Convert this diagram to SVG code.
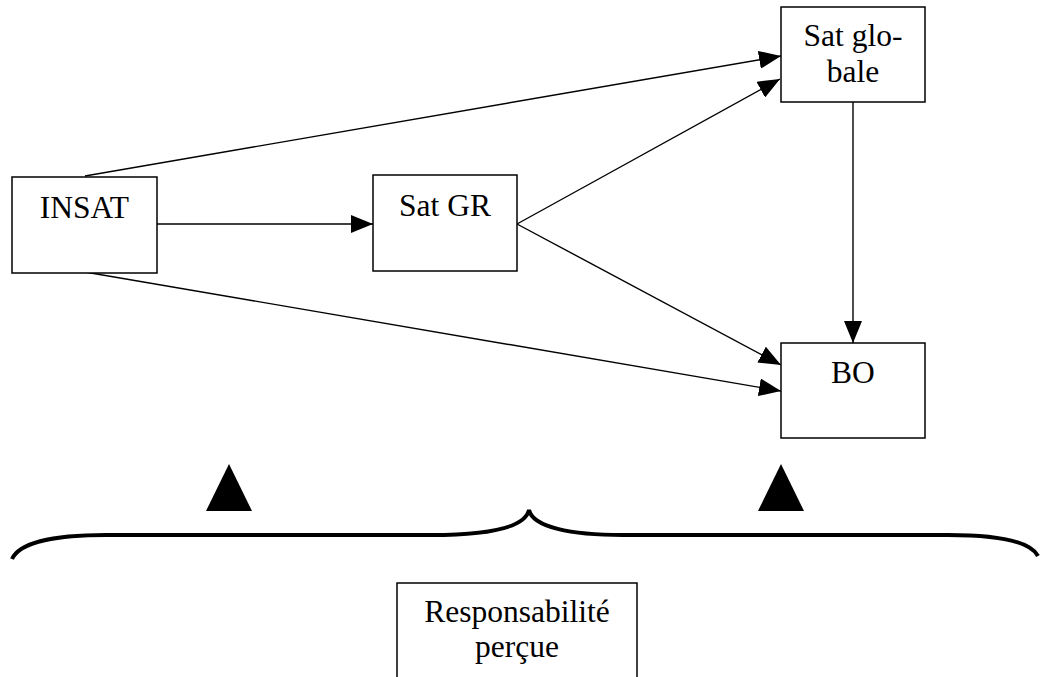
<svg xmlns="http://www.w3.org/2000/svg" width="1040" height="677" viewBox="0 0 1040 677">
  <style>
    .box { fill: #ffffff; stroke: #000000; stroke-width: 1.5; }
    .lbl { font-family: "Liberation Serif", "Times New Roman", serif; font-size: 31.5px; fill: #000000; text-anchor: middle; }
    .edge { fill: none; stroke: #000000; stroke-width: 1.4; marker-end: url(#arrow); }
  </style>
  <defs>
    <marker id="arrow" viewBox="0 0 22 18" refX="22" refY="9" markerWidth="22" markerHeight="18" markerUnits="userSpaceOnUse" orient="auto">
      <path d="M0,0 L22,9 L0,18 Z" fill="#000000"/>
    </marker>
  </defs>
  <rect width="1040" height="677" fill="#ffffff"/>

  <!-- connectors -->
  <g id="connectors">
    <line class="edge" x1="157" y1="224" x2="373" y2="224"/>
    <line class="edge" x1="85" y1="176" x2="781" y2="56"/>
    <line class="edge" x1="517" y1="224" x2="780" y2="79"/>
    <line class="edge" x1="517" y1="224" x2="781" y2="365"/>
    <line class="edge" x1="85" y1="272" x2="781" y2="391"/>
    <line class="edge" x1="853" y1="102" x2="853" y2="343"/>
  </g>

  <g id="node-insat">
    <rect class="box" x="12" y="177" width="145" height="96"/>
    <text class="lbl" x="84.5" y="218">INSAT</text>
  </g>
  <g id="node-satgr">
    <rect class="box" x="373" y="175" width="144" height="96"/>
    <text class="lbl" x="445" y="216">Sat GR</text>
  </g>
  <g id="node-satglobale">
    <rect class="box" x="781" y="7" width="144" height="95"/>
    <text class="lbl" x="853" y="46">Sat glo-</text>
    <text class="lbl" x="853" y="82">bale</text>
  </g>
  <g id="node-bo">
    <rect class="box" x="781" y="343" width="144" height="95"/>
    <text class="lbl" x="853" y="383">BO</text>
  </g>

  <!-- upward markers and brace -->
  <g id="brace">
    <polygon points="229,464 206,511 252,511" fill="#000000"/>
    <polygon points="781,464 758,511 804,511" fill="#000000"/>
    <path d="M12,559 C20,541 60,535 106,535 L431,535 C490,535 525,527 529,510 C533,527 570,535 623,535 L948,535 C995,535 1030,541 1038,556" fill="none" stroke="#000000" stroke-width="4"/>
  </g>

  <g id="node-responsabilite">
    <rect class="box" x="397" y="583" width="240" height="110"/>
    <text class="lbl" x="517" y="622">Responsabilité</text>
    <text class="lbl" x="517" y="657">perçue</text>
  </g>
</svg>
